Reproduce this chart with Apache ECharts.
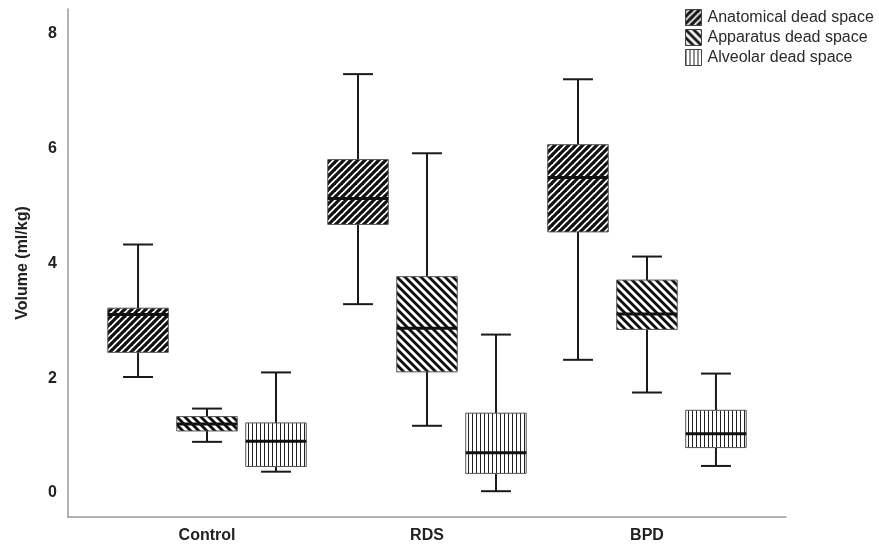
<!DOCTYPE html>
<html>
<head>
<meta charset="utf-8">
<script src="https://cdn.jsdelivr.net/npm/echarts@6/dist/echarts.min.js"></script>
<style>
html,body{margin:0;padding:0;background:#fff;}
#chart{width:879px;height:545px;}
</style>
</head>
<body>
<div id="chart"></div>
<script>
// ---- data ----
const categories = ['Control', 'RDS', 'BPD'];
const seriesNames = ['Anatomical dead space', 'Apparatus dead space', 'Alveolar dead space'];
// each row: [min, Q1, median, Q3, max] per category
const anatomical = [
  [2.02, 2.45, 3.11, 3.22, 4.33],
  [3.29, 4.68, 5.13, 5.81, 7.30],
  [2.32, 4.55, 5.50, 6.07, 7.21]
];
const apparatus = [
  [0.89, 1.08, 1.20, 1.33, 1.47],
  [1.17, 2.11, 2.87, 3.77, 5.92],
  [1.75, 2.85, 3.12, 3.71, 4.12]
];
const alveolar = [
  [0.37, 0.46, 0.90, 1.22, 2.10],
  [0.03, 0.34, 0.70, 1.39, 2.76],
  [0.47, 0.79, 1.03, 1.44, 2.08]
];
const yTicks = [0, 2, 4, 6, 8];

// ---- patterns ----
function makePattern(kind) {
  const c = document.createElement('canvas');
  let n;
  if (kind === 'fwd') n = 7; else if (kind === 'back') n = 8; else n = 4;
  c.width = n; c.height = n;
  const g = c.getContext('2d');
  g.fillStyle = '#fff';
  g.fillRect(0, 0, n, n);
  g.strokeStyle = '#111';
  if (kind === 'fwd') {
    g.lineWidth = 3.2;
    for (const o of [-n, 0, n]) {
      g.beginPath(); g.moveTo(o - 1, n + 1); g.lineTo(o + n + 1, -1); g.stroke();
    }
  } else if (kind === 'back') {
    g.lineWidth = 2.8;
    for (const o of [-n, 0, n]) {
      g.beginPath(); g.moveTo(o - 1, -1); g.lineTo(o + n + 1, n + 1); g.stroke();
    }
  } else {
    g.fillStyle = '#222';
    g.fillRect(0, 0, 1, n);
  }
  return {image: c, repeat: 'repeat'};
}
const patterns = [makePattern('fwd'), makePattern('back'), makePattern('vert')];

const allData = [anatomical, apparatus, alveolar];

function buildSeries(k) {
  const rows = allData[k].map((r, i) => [i].concat(r));
  return {
    name: seriesNames[k],
    type: 'custom',
    itemStyle: {color: patterns[k], borderColor: '#444', borderWidth: 1},
    data: rows,
    renderItem: function (params, api) {
      const idx = api.value(0);
      const unit = api.size([1, 0])[0];
      const off = (k - 1) * 0.3136 * unit;
      const half = 0.1375 * unit;
      const capHalf = 0.068 * unit;
      const cx = api.coord([idx, 0])[0] + off;
      const yMin = api.coord([idx, api.value(1)])[1];
      const yQ1 = api.coord([idx, api.value(2)])[1];
      const yMed = api.coord([idx, api.value(3)])[1];
      const yQ3 = api.coord([idx, api.value(4)])[1];
      const yMax = api.coord([idx, api.value(5)])[1];
      const lineStyle = {stroke: '#1a1a1a', lineWidth: 2};
      return {
        type: 'group',
        children: [
          {type: 'line', shape: {x1: cx, y1: yMax, x2: cx, y2: yQ3}, style: lineStyle},
          {type: 'line', shape: {x1: cx, y1: yQ1, x2: cx, y2: yMin}, style: lineStyle},
          {type: 'line', shape: {x1: cx - capHalf, y1: yMax, x2: cx + capHalf, y2: yMax}, style: lineStyle},
          {type: 'line', shape: {x1: cx - capHalf, y1: yMin, x2: cx + capHalf, y2: yMin}, style: lineStyle},
          {type: 'rect', shape: {x: cx - half, y: yQ3, width: 2 * half, height: yQ1 - yQ3},
            style: {fill: patterns[k], stroke: '#555', lineWidth: 1}},
          {type: 'line', shape: {x1: cx - half, y1: yMed, x2: cx + half, y2: yMed},
            style: {stroke: '#111', lineWidth: 3}}
        ]
      };
    }
  };
}

const chart = echarts.init(document.getElementById('chart'), null, {renderer: 'canvas'});
chart.setOption({
  animation: false,
  backgroundColor: '#fff',
  textStyle: {fontFamily: 'Liberation Sans, Arial, sans-serif'},
  legend: {
    orient: 'vertical',
    left: 685,
    top: 9,
    padding: 0,
    itemWidth: 16,
    itemHeight: 16,
    itemGap: 3,
    icon: 'rect',
    textStyle: {fontSize: 16, color: '#2a2a2a', padding: [0, 0, 0, 1]},
    data: seriesNames.map((n, k) => ({
      name: n,
      itemStyle: {color: patterns[k], borderColor: '#444', borderWidth: 1}
    }))
  },
  grid: {left: 68, right: 93, top: 9, bottom: 28, containLabel: false},
  xAxis: {
    type: 'value',
    min: -0.632,
    max: 2.632,
    axisLine: {show: true, onZero: false, lineStyle: {color: '#999', width: 1.5}},
    axisTick: {show: false},
    splitLine: {show: false},
    axisLabel: {
      customValues: [0, 1, 2],
      formatter: v => categories[Math.round(v)] || '',
      fontWeight: 'bold', fontSize: 16, color: '#222', margin: 11
    }
  },
  yAxis: {
    type: 'value',
    min: -0.42,
    max: 8.435,
    name: 'Volume (ml/kg)',
    nameLocation: 'middle',
    nameGap: 37,
    nameTextStyle: {fontWeight: 'bold', fontSize: 16, color: '#222'},
    axisLine: {show: true, onZero: false, lineStyle: {color: '#999', width: 1.5}},
    axisTick: {show: false},
    splitLine: {show: false},
    axisLabel: {
      customValues: yTicks,
      fontWeight: 'bold', fontSize: 16, color: '#222', margin: 11
    }
  },
  series: [buildSeries(0), buildSeries(1), buildSeries(2)]
});
</script>
</body>
</html>
